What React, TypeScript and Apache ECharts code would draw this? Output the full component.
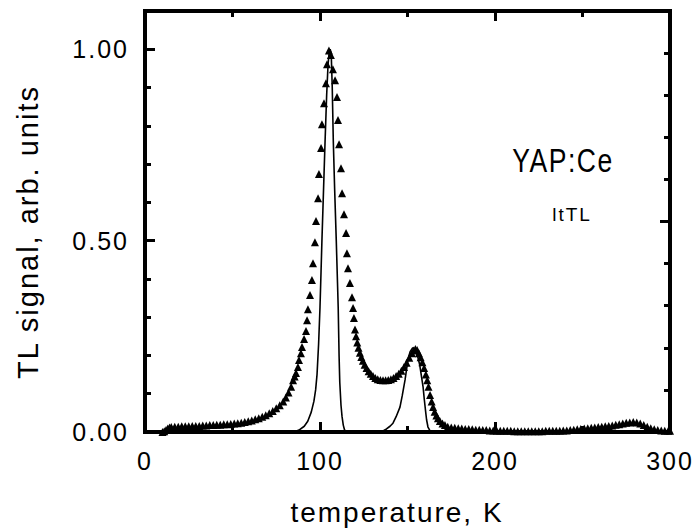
import React, { useEffect, useRef } from "react";
import * as echarts from "echarts";

// Measured TL glow curve (temperature K, normalized signal) — triangles
const measuredTL: [number, number][] = [
  [10, 0.0], [11, 0.002], [12, 0.005], [13, 0.009], [14, 0.012],
  [15, 0.013], [17, 0.014], [19, 0.014], [21, 0.015], [23, 0.015], [25, 0.015], [27, 0.016], [29, 0.016],
  [31, 0.016], [33, 0.017], [35, 0.017], [37, 0.018], [39, 0.018], [41, 0.019], [43, 0.019], [45, 0.02],
  [47, 0.02], [49, 0.021], [51, 0.022], [53, 0.023], [55, 0.024], [57, 0.026], [59, 0.028], [61, 0.03],
  [63, 0.033], [65, 0.036], [67, 0.04], [69, 0.044], [71, 0.049], [73, 0.055], [75, 0.062], [77, 0.07],
  [79, 0.08], [80.5, 0.09], [82, 0.103], [83.5, 0.118], [84.6, 0.135], [85.5, 0.145], [86.3, 0.154],
  [87.4, 0.17], [88, 0.188], [89.1, 0.206], [89.7, 0.222], [90.9, 0.243], [92, 0.264], [92.6, 0.292],
  [93.1, 0.321], [94.3, 0.358], [95.4, 0.397], [96, 0.441], [97.1, 0.496], [97.7, 0.551], [98.9, 0.611],
  [99.4, 0.674], [100.6, 0.742], [101.1, 0.804], [102.3, 0.859], [103.4, 0.911], [104, 0.961], [105.1, 0.997],
  [106.2, 0.985], [107.4, 0.948], [108.6, 0.919], [109.7, 0.875], [110.3, 0.815], [110.9, 0.752], [112, 0.689],
  [112.6, 0.624], [113.7, 0.569], [114.9, 0.52], [115.4, 0.467], [116, 0.428], [117.1, 0.389], [118.3, 0.352],
  [118.9, 0.324], [119.4, 0.298], [120, 0.268], [120.6, 0.25], [121.3, 0.234], [122, 0.22], [122.8, 0.207],
  [123.6, 0.196], [124.5, 0.186], [125.5, 0.176], [126.6, 0.167], [127.8, 0.159], [129, 0.152], [130.3, 0.146],
  [131.6, 0.141], [133, 0.138], [134.5, 0.136], [136, 0.135], [137.5, 0.135], [139, 0.136], [140.5, 0.138],
  [142, 0.141], [143.5, 0.146], [145, 0.152], [146.5, 0.16], [148, 0.17], [149.5, 0.181], [151, 0.194],
  [152.5, 0.206], [153.5, 0.213], [154.5, 0.217], [155.5, 0.214], [156.5, 0.206], [157.5, 0.195], [158.5, 0.182],
  [159.5, 0.167], [160.5, 0.15], [161.3, 0.135], [162, 0.118], [162.9, 0.097], [163.8, 0.08], [164.6, 0.065],
  [165.5, 0.053], [166.5, 0.043], [167.4, 0.036], [168.5, 0.029], [170, 0.022], [171.4, 0.018], [173, 0.014],
  [175, 0.012], [177, 0.011], [179, 0.01], [181, 0.009], [183, 0.008], [185, 0.008], [187, 0.007], [189, 0.006],
  [191, 0.006], [193, 0.005], [195, 0.005], [197, 0.004], [199, 0.004], [201, 0.003], [203, 0.003], [205, 0.003],
  [207, 0.003], [209, 0.003], [211, 0.002], [213, 0.002], [215, 0.002], [217, 0.002], [219, 0.002], [221, 0.002],
  [223, 0.002], [225, 0.002], [227, 0.002], [229, 0.003], [231, 0.003], [233, 0.003], [235, 0.003], [237, 0.003],
  [239, 0.004], [241, 0.004], [243, 0.005], [245, 0.006], [247, 0.007], [249, 0.008], [251, 0.009], [253, 0.01],
  [255, 0.011], [257, 0.012], [259, 0.013], [261, 0.014], [263, 0.015], [265, 0.016], [267, 0.017], [269, 0.019],
  [271, 0.02], [273, 0.022], [275, 0.024], [277, 0.025], [279, 0.026], [281, 0.025], [283, 0.022], [285, 0.018],
  [287, 0.014], [289, 0.01], [291, 0.007], [293, 0.005], [295, 0.004], [297, 0.003], [299, 0.003], [300, 0.003],
];

// Fitted component peak near 106 K — thin line
const fitPeak1: [number, number][] = [
  [0, 0], [85, 0], [88, 0.005], [91, 0.015], [93, 0.028], [95, 0.052], [96.5, 0.08], [97.5, 0.11],
  [98.3, 0.15], [99.2, 0.23], [100, 0.326], [100.6, 0.42], [101.1, 0.5], [102, 0.63], [102.9, 0.76],
  [103.8, 0.88], [104.6, 0.96], [105.3, 0.995], [105.8, 1.0], [106.4, 0.99], [107, 0.9], [107.6, 0.76],
  [108.4, 0.63], [109.3, 0.5], [110, 0.39], [110.4, 0.326], [110.9, 0.2], [111.3, 0.13], [112, 0.07],
  [112.6, 0.04], [113.3, 0.018], [114, 0.006], [115, 0], [300, 0],
];

// Fitted component peak near 153 K — thin line
const fitPeak2: [number, number][] = [
  [0, 0], [133, 0], [136, 0.003], [138, 0.008], [140, 0.015], [141.7, 0.023], [143.5, 0.04], [145.7, 0.065],
  [147, 0.095], [148.6, 0.136], [150.3, 0.19], [151.5, 0.21], [153, 0.22], [154.5, 0.215], [155.8, 0.198],
  [157, 0.175], [158, 0.145], [158.9, 0.118], [159.6, 0.085], [160.2, 0.06], [160.9, 0.032], [161.7, 0.013],
  [162.9, 0.003], [164, 0], [300, 0],
];

const xTickValues = [0, 100, 200, 300];
const yTickValues = [0, 0.5, 1.0];

const FONT = "'Liberation Sans', Arial, Helvetica, sans-serif";

const mkLine = (show = true) => ({ show, onZero: false, lineStyle: { color: "#000", width: 4, opacity: 1 } });
const mkTick = (len: number) => ({ show: true, inside: true, length: len, lineStyle: { color: "#000", width: 3, opacity: 1 } });
const mkMinor = (n: number, len: number) => ({ show: true, splitNumber: n, length: len, lineStyle: { color: "#000", width: 3, opacity: 1 } });

// grid frame
const G = { left: 145, top: 11, right: 670, bottom: 432 };
const FW = 4;

export default function App() {
  const ref = useRef<HTMLDivElement>(null);
  useEffect(() => {
    if (!ref.current) return;
    const chart = echarts.init(ref.current, undefined, { renderer: "svg" });
    const frameBar = (x: number, y: number, w: number, h: number) => ({
      type: "rect", z: 10, silent: true, shape: { x, y, width: w, height: h }, style: { fill: "#000" },
    });
    chart.setOption({
      animation: false,
      backgroundColor: "#fff",
      grid: { left: G.left, right: 695 - G.right, top: G.top, bottom: 531 - G.bottom, containLabel: false },
      xAxis: [
        {
          type: "value", position: "bottom", min: 0, max: 300, interval: 100,
          axisLine: mkLine(), axisTick: mkTick(10), minorTick: mkMinor(2, 6), splitLine: { show: false },
          axisLabel: {
            color: "#000", fontSize: 25, fontFamily: FONT, margin: 16,
            formatter: (v: number) => (xTickValues.includes(v) ? String(v) : ""),
          },
        },
        {
          type: "value", position: "top", min: 0, max: 300, interval: 100,
          axisLine: mkLine(), axisTick: mkTick(10), minorTick: mkMinor(2, 6), splitLine: { show: false },
          axisLabel: { show: false },
        },
      ],
      yAxis: [
        {
          type: "value", position: "left", min: 0, max: 1.1, interval: 0.5,
          axisLine: mkLine(), axisTick: mkTick(10), splitLine: { show: false },
          axisLabel: {
            color: "#000", fontSize: 25, fontFamily: FONT, margin: 16, showMaxLabel: false,
            formatter: (v: number) => (yTickValues.some((t) => Math.abs(t - v) < 1e-6) ? v.toFixed(2) : ""),
          },
        },
        {
          type: "value", position: "left", min: 0, max: 1.1, interval: 0.1,
          axisLine: mkLine(false), axisTick: mkTick(6), splitLine: { show: false },
          axisLabel: { show: false },
        },
        {
          type: "value", position: "right", min: 0, max: 1, interval: 0.5,
          axisLine: mkLine(), axisTick: mkTick(10), minorTick: mkMinor(5, 6), splitLine: { show: false },
          axisLabel: { show: false },
        },
      ],
      series: [
        {
          type: "scatter", xAxisIndex: 0, yAxisIndex: 0, data: measuredTL,
          symbol: "triangle", symbolSize: 8, itemStyle: { color: "#000", opacity: 1 }, z: 3,
        },
        {
          type: "line", xAxisIndex: 0, yAxisIndex: 0, data: fitPeak1, showSymbol: false, symbol: "none",
          lineStyle: { color: "#000", width: 1.6 }, z: 4,
        },
        {
          type: "line", xAxisIndex: 0, yAxisIndex: 0, data: fitPeak2, showSymbol: false, symbol: "none",
          lineStyle: { color: "#000", width: 1.6 }, z: 4,
        },
      ],
      graphic: [
        frameBar(G.left - FW / 2, G.top - FW / 2, G.right - G.left + FW, FW),
        frameBar(G.left - FW / 2, G.bottom - FW / 2, G.right - G.left + FW, FW),
        frameBar(G.left - FW / 2, G.top - FW / 2, FW, G.bottom - G.top + FW),
        frameBar(G.right - FW / 2, G.top - FW / 2, FW, G.bottom - G.top + FW),
        {
          type: "text", x: 397, y: 512,
          style: { text: "temperature, K", fill: "#000", font: `28px ${FONT}`, textAlign: "center", textVerticalAlign: "middle" },
        },
        {
          type: "text", x: 28, y: 232, rotation: Math.PI / 2,
          style: { text: "TL signal, arb. units", fill: "#000", font: `29px ${FONT}`, textAlign: "center", textVerticalAlign: "middle" },
        },
        {
          type: "text", x: 563, y: 160, scaleX: 0.78,
          style: { text: "YAP:Ce", fill: "#000", font: `34px ${FONT}`, textAlign: "center", textVerticalAlign: "middle" },
        },
        {
          type: "text", x: 572, y: 214,
          style: { text: "ltTL", fill: "#000", font: `19px ${FONT}`, textAlign: "center", textVerticalAlign: "middle" },
        },
      ],
    });
    return () => chart.dispose();
  }, []);
  return (
    <>
      <style>{`body{margin:0} .tlchart svg text{letter-spacing:2px}`}</style>
      <div className="tlchart" ref={ref} style={{ width: 695, height: 531 }} />
    </>
  );
}
